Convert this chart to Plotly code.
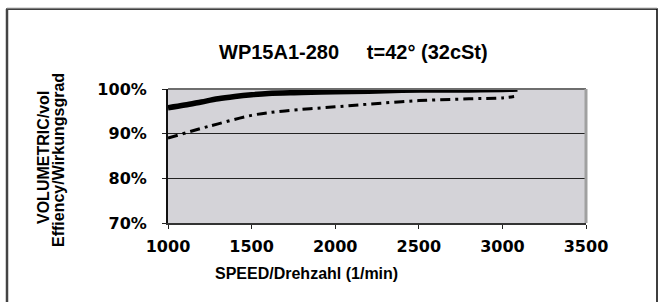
import plotly.graph_objects as go

speed_solid = [1000, 1100, 1200, 1300, 1400, 1500, 1600, 1800, 2000, 2200, 2400, 2600, 2800, 3000, 3090]
eff_solid = [95.8, 96.4, 97.1, 97.8, 98.3, 98.7, 99.0, 99.2, 99.4, 99.5, 99.7, 99.8, 99.8, 99.9, 100.0]

speed_dash = [1000, 1200, 1300, 1500, 1700, 2000, 2200, 2500, 2800, 3000, 3070]
eff_dash = [89.0, 91.2, 92.2, 94.1, 95.1, 96.0, 96.6, 97.4, 97.8, 98.0, 98.3]

x_ticks = [1000, 1500, 2000, 2500, 3000, 3500]
y_ticks = [70, 80, 90, 100]

W, H = 659, 302
L, R, T, B = 168, 73, 89, 79
pw, ph = W - L - R, H - T - B

def px(x):
    return (x - L) / pw

def py(y):
    return (H - B - y) / ph

fig = go.Figure()
fig.add_trace(go.Scatter(x=speed_dash, y=eff_dash, mode="lines", line_shape="spline",
                         line=dict(color="black", width=3, dash="10px,5px,3px,5px"),
                         showlegend=False, hoverinfo="skip"))
fig.add_trace(go.Scatter(x=speed_solid, y=eff_solid, mode="lines", line_shape="spline",
                         line=dict(color="black", width=5.5),
                         showlegend=False, hoverinfo="skip"))

tickfont = dict(family="DejaVu Sans", size=16, color="black")
fig.update_layout(
    width=W, height=H,
    margin=dict(l=L, r=R, t=T, b=B, autoexpand=False),
    paper_bgcolor="white", plot_bgcolor="#d4d3d8",
    xaxis=dict(range=[1000, 3500], tickvals=x_ticks,
               ticktext=[f"<b>{v}</b>" for v in x_ticks],
               tickfont=tickfont, ticks="outside", ticklen=4, tickcolor="#222",
               showgrid=False, zeroline=False, showline=True, linecolor="#333", linewidth=2,
               ticklabelstandoff=4),
    yaxis=dict(range=[70, 100], tickvals=y_ticks,
               ticktext=[f"<b>{v}%</b>" for v in y_ticks],
               tickfont=tickfont, ticks="outside", ticklen=4, tickcolor="#222",
               showgrid=True, gridcolor="#222", gridwidth=1,
               zeroline=False, showline=True, linecolor="#111", linewidth=2,
               ticklabelstandoff=12),
)

# plot area top and right edges
fig.add_shape(type="line", xref="paper", yref="paper", x0=0, x1=1, y0=1, y1=1,
              line=dict(color="#6e6e6e", width=2))
fig.add_shape(type="line", xref="paper", yref="paper", x0=1, x1=1, y0=0, y1=1,
              line=dict(color="#a0a0a0", width=3))
# outer frame
fig.add_shape(type="rect", xref="paper", yref="paper",
              x0=px(7), x1=px(657), y0=py(9), y1=py(320),
              line=dict(color="black", width=1.5), layer="below")
fig.add_shape(type="line", xref="paper", yref="paper", x0=px(7), x1=px(7), y0=py(9), y1=py(320),
              line=dict(color="#444", width=2.5))
fig.add_shape(type="line", xref="paper", yref="paper", x0=px(7), x1=px(657), y0=py(8), y1=py(8),
              line=dict(color="#bbbbbb", width=1))

title_font = dict(family="Liberation Sans", size=20, color="black")
fig.add_annotation(text="<b>WP15A1-280\u00a0\u00a0\u00a0\u00a0 t=42° (32cSt)</b>",
                   xref="paper", yref="paper", x=px(353), y=py(52),
                   showarrow=False, font=title_font, xanchor="center", yanchor="middle")

axfont = dict(family="Liberation Sans", size=16, color="black")
fig.add_annotation(text="<b>VOLUMETRIC/vol</b>", xref="paper", yref="paper",
                   x=px(43), y=py(158), textangle=-90, showarrow=False, font=axfont,
                   xanchor="center", yanchor="middle")
fig.add_annotation(text="<b>Effiency/Wirkungsgrad</b>", xref="paper", yref="paper",
                   x=px(58), y=py(160), textangle=-90, showarrow=False, font=axfont,
                   xanchor="center", yanchor="middle")
fig.add_annotation(text="<b>SPEED/Drehzahl (1/min)</b>", xref="paper", yref="paper",
                   x=px(306), y=py(273), showarrow=False, font=axfont,
                   xanchor="center", yanchor="middle")

fig.write_html("out.html", config={"displayModeBar": False},
               post_script="document.body.style.margin='0px';document.body.style.overflow='hidden';")
